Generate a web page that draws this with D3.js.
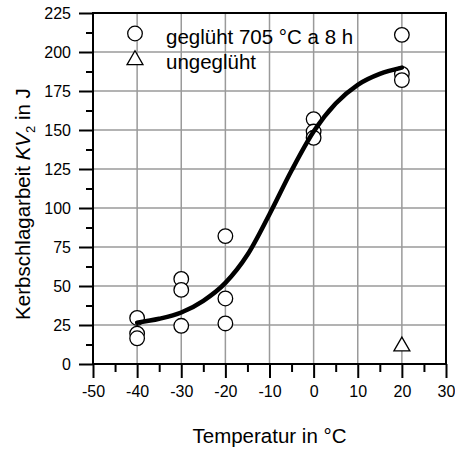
<!DOCTYPE html>
<html><head><meta charset="utf-8">
<script src="https://cdn.jsdelivr.net/npm/d3@7"></script>
<style>body{margin:0;background:#fff}svg{display:block}text{font-family:"Liberation Sans",Arial,sans-serif}</style>
</head><body>
<svg id="c" width="455" height="450"></svg>
<script>
// Data
const annealedT = [-40,-40,-40,-30,-30,-30,-20,-20,-20,0,0,0,20,20,20];
const annealedKV = [29.5,19.5,16.5,54.5,47.5,24.5,82,42,26,157,149,145,211,186,182];
const unannealedT = [20];
const unannealedKV = [12];
const curveT = [-40,-35,-30,-25,-20,-15,-10,-5,0,5,10,15,20];
const curveKV = [26.5,29,33,40.5,52,70,96,124,149,167,179,186,190];
const xTicks = [-50,-40,-30,-20,-10,0,10,20,30];
const yTicks = [0,25,50,75,100,125,150,175,200,225];
const legendLabels = ["geglüht 705 °C a 8 h","ungeglüht"];

const svg = d3.select("#c");
const L=93, R=446, T=13, B=364;
const x = d3.scaleLinear().domain([-50,30]).range([L,R]);
const y = d3.scaleLinear().domain([0,225]).range([B,T]);

// grid
const g = svg.append("g");
g.selectAll(".gx").data(xTicks.slice(1,-1)).enter().append("line")
  .attr("x1",d=>x(d)).attr("x2",d=>x(d)).attr("y1",T).attr("y2",B)
  .attr("stroke","#9a9a9a").attr("stroke-width",1.5);
g.selectAll(".gy").data(yTicks.slice(1,-1)).enter().append("line")
  .attr("y1",d=>y(d)).attr("y2",d=>y(d)).attr("x1",L).attr("x2",R)
  .attr("stroke","#9a9a9a").attr("stroke-width",1.5);

// axes
const xMinor = d3.range(-45,30,10);
const yMinor = d3.range(12.5,225,25);
const xa = d3.axisBottom(x).tickValues(xTicks).tickSize(14).tickPadding(8).tickFormat(d=>String(d));
const xaM = d3.axisBottom(x).tickValues(xMinor).tickSize(8).tickFormat("");
const ya = d3.axisLeft(y).tickValues(yTicks).tickSize(14).tickPadding(8).tickFormat(d=>String(d));
const yaM = d3.axisLeft(y).tickValues(yMinor).tickSize(7).tickFormat("");
function style(sel,fs){
  sel.select(".domain").remove();
  sel.selectAll("line").attr("stroke","#000").attr("stroke-width",2);
  sel.selectAll("text").attr("font-size",fs).attr("fill","#000")
    .style("font-family",'"Liberation Sans",Arial,sans-serif');
}
svg.append("g").attr("transform",`translate(0,${B})`).call(xa).call(s=>style(s,16));
svg.append("g").attr("transform",`translate(0,${B})`).call(xaM).call(s=>style(s,16));
svg.append("g").attr("transform",`translate(${L},0)`).call(ya).call(s=>style(s,16));
svg.append("g").attr("transform",`translate(${L},0)`).call(yaM).call(s=>style(s,16));

// frame
svg.append("rect").attr("x",L).attr("y",T).attr("width",R-L).attr("height",B-T)
  .attr("fill","none").attr("stroke","#000").attr("stroke-width",2);

// markers
const circ = svg.append("g");
circ.selectAll("circle").data(annealedT.map((t,i)=>[t,annealedKV[i]])).enter().append("circle")
  .attr("cx",d=>x(d[0])).attr("cy",d=>y(d[1])).attr("r",7.3)
  .attr("fill","#fff").attr("stroke","#000").attr("stroke-width",1.3);
const tri = d3.symbol().type(d3.symbolTriangle).size(110);
svg.append("g").selectAll("path").data(unannealedT.map((t,i)=>[t,unannealedKV[i]])).enter().append("path")
  .attr("d",tri).attr("transform",d=>`translate(${x(d[0])},${y(d[1])+1})`)
  .attr("fill","#fff").attr("stroke","#000").attr("stroke-width",1.3);

// curve
const line = d3.line().x((d,i)=>x(curveT[i])).y(d=>y(d)).curve(d3.curveMonotoneX);
svg.append("path").attr("d",line(curveKV)).attr("fill","none").attr("stroke","#000")
  .attr("stroke-width",4.5).attr("stroke-linecap","round");

// legend
svg.append("circle").attr("cx",135).attr("cy",33.5).attr("r",7.3)
  .attr("fill","#fff").attr("stroke","#000").attr("stroke-width",1.3);
svg.append("path").attr("d",tri).attr("transform","translate(135,60)")
  .attr("fill","#fff").attr("stroke","#000").attr("stroke-width",1.3);
svg.selectAll(".lt").data(legendLabels).enter().append("text")
  .attr("x",166).attr("y",(d,i)=>43.5+i*25).attr("font-size",20.5).text(d=>d);

// axis titles
svg.append("text").attr("x",(L+R)/2).attr("y",443).attr("text-anchor","middle")
  .attr("font-size",20.5).text("Temperatur in °C");
const yt = svg.append("text").attr("transform","translate(30,204) rotate(-90)")
  .attr("text-anchor","middle").attr("font-size",20.5);
yt.append("tspan").text("Kerbschlagarbeit ");
yt.append("tspan").attr("font-style","italic").text("KV");
yt.append("tspan").attr("font-size",13).attr("dy",5).text("2");
yt.append("tspan").attr("dy",-5).text(" in J");
</script>
</body></html>
